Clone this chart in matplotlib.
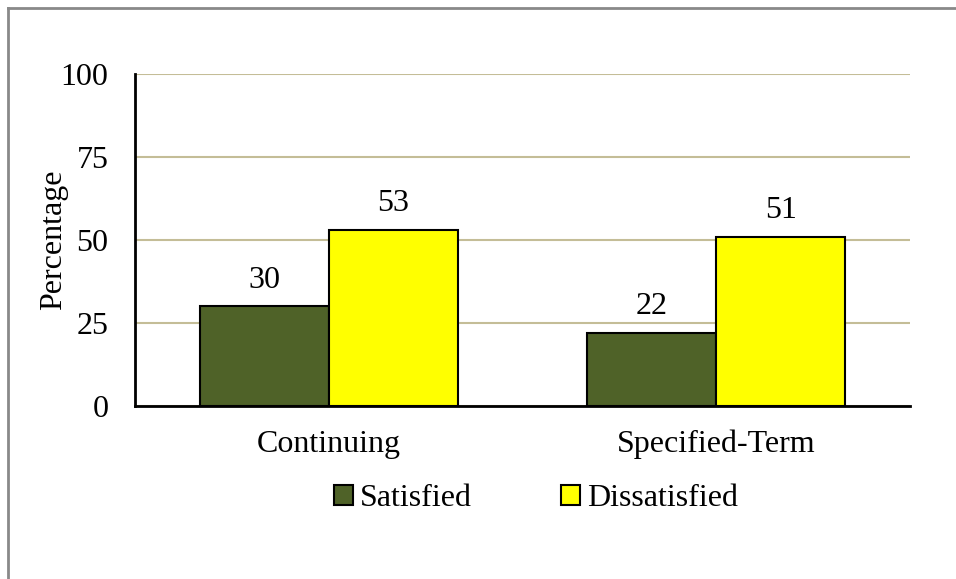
import numpy as np
import matplotlib.pyplot as plt
from matplotlib.lines import Line2D

categories = ['Continuing', 'Specified-Term']
satisfied = [30, 22]
dissatisfied = [53, 51]
yticks = [0, 25, 50, 75, 100]

plt.rcParams['font.family'] = ['Liberation Serif', 'DejaVu Serif']
FS = 23

fig = plt.figure(figsize=(9.56, 5.79), dpi=100)
ax = fig.add_axes([135/956, 1-406/579, 775/956, 332/579])

# outer frame (only top and left edges show in the reference)
fig.lines.append(Line2D([8/956, 8/956], [0, 1-8/579], transform=fig.transFigure,
                        color='#898989', linewidth=2))
fig.lines.append(Line2D([8/956, 1], [1-8/579, 1-8/579], transform=fig.transFigure,
                        color='#898989', linewidth=2))

x = np.arange(len(categories))
w = 1/3
b1 = ax.bar(x - w/2, satisfied, w, color='#4F6228', edgecolor='black', linewidth=1.5,
            label='Satisfied', zorder=3)
b2 = ax.bar(x + w/2, dissatisfied, w, color='#FFFF00', edgecolor='black', linewidth=1.5,
            label='Dissatisfied', zorder=3)

for bars, vals in ((b1, satisfied), (b2, dissatisfied)):
    for r, v in zip(bars, vals):
        ax.text(r.get_x() + r.get_width()/2, v + 3.5, str(v), ha='center', va='bottom',
                fontsize=FS)

ax.set_xlim(-0.5, 1.5)
ax.set_ylim(0, 100)
ax.set_yticks(yticks)
ax.set_xticks(x)
ax.set_xticklabels(categories)
ax.tick_params(axis='both', length=0, labelsize=FS)
ax.tick_params(axis='y', pad=19)
ax.tick_params(axis='x', pad=17)
ax.yaxis.grid(True, color='#C4BD97', linewidth=1.5, zorder=0)
ax.set_axisbelow(True)
for s in ('top', 'right'):
    ax.spines[s].set_visible(False)
for s in ('left', 'bottom'):
    ax.spines[s].set_linewidth(2)
    ax.spines[s].set_zorder(4)
ax.set_ylabel('Percentage', fontsize=FS, labelpad=-5)

fig.legend(handles=[b1, b2], loc='center', bbox_to_anchor=(536/956, 1-499/579), ncol=2,
           frameon=False, fontsize=FS, handlelength=0.6, handleheight=0.6,
           handletextpad=0.2, columnspacing=2.8)

fig.savefig('out.png', dpi=100)
